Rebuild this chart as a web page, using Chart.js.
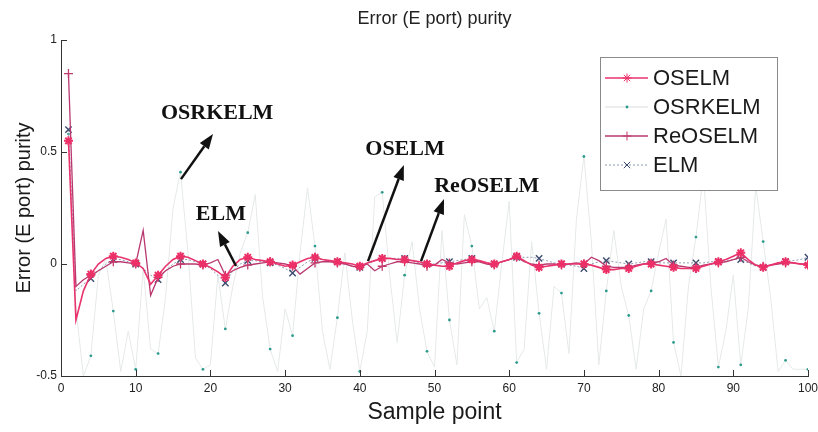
<!DOCTYPE html>
<html lang="en">
<head>
<meta charset="UTF-8" />
<title>Error (E port) purity</title>
<script src="https://cdn.jsdelivr.net/npm/chart.js"></script>
<style>
  body { margin: 0; background: #fff; }
  canvas { display: block; }
</style>
</head>
<body>
<canvas id="purityChart" width="818" height="432"></canvas>
<script>
  // sample index 1..100
  const samplePoints = Array.from({ length: 100 }, (_, i) => i + 1);
  const xTicks = [0, 10, 20, 30, 40, 50, 60, 70, 80, 90, 100];
  const yTicks = [-0.5, 0, 0.5, 1];

  const oselm = [
    0.55, -0.25, -0.12, -0.045, 0.0, 0.025, 0.035, 0.03, 0.02, 0.005,
    -0.02, -0.09, -0.05, -0.01, 0.02, 0.035, 0.03, 0.015, 0.0, -0.015,
    -0.035, -0.06, -0.01, 0.02, 0.03, 0.02, 0.015, 0.01, 0.0, -0.01,
    -0.005, 0.01, 0.025, 0.03, 0.02, 0.015, 0.01, 0.005, 0.0, -0.01,
    0.005, 0.015, 0.025, 0.025, 0.02, 0.02, 0.015, 0.01, 0.0, -0.005,
    -0.01, -0.01, 0.005, 0.015, 0.02, 0.015, 0.005, 0.0, 0.01, 0.02,
    0.035, 0.015, -0.005, -0.015, -0.01, -0.005, 0.0, 0.0, 0.0, 0.0,
    -0.005, -0.015, -0.025, -0.025, -0.02, -0.02, -0.01, 0.0, 0.0, -0.005,
    -0.01, -0.015, -0.02, -0.02, -0.02, -0.01, 0.0, 0.01, 0.02, 0.035,
    0.05, 0.02, -0.005, -0.015, -0.005, 0.005, 0.01, 0.005, 0.0, -0.005
  ];
  const osrkelm = [
    0.58, -0.2, -0.5, -0.41, -0.05, 0.02, -0.21, -0.48, -0.3, -0.47,
    -0.02, -0.38, -0.4, -0.15, 0.25, 0.41, 0.05, -0.42, -0.47, -0.45,
    -0.05, -0.29, -0.1, 0.05, 0.14, 0.31, -0.15, -0.38, -0.48, -0.2,
    -0.32, 0.05, 0.34, 0.08, -0.3, -0.47, -0.24, 0.05, -0.25, -0.48,
    -0.3, 0.3, 0.32, -0.05, -0.35, -0.05, 0.1, -0.2, -0.39, -0.46,
    0.15, -0.25, -0.45, 0.22, 0.08, -0.2, -0.15, -0.3, 0.0, 0.28,
    -0.44, -0.38, 0.1, -0.22, -0.47, -0.1, -0.13, -0.4, 0.2, 0.48,
    0.1, -0.45, -0.12, 0.15, -0.1, -0.23, -0.47, -0.2, -0.12, 0.05,
    0.2, -0.35, -0.5, -0.1, 0.12, 0.4, -0.1, -0.46, -0.3, -0.05,
    -0.45, -0.2, 0.35, 0.1, -0.15, -0.48, -0.43, -0.47, -0.47, -0.47
  ];
  const reoselm = [
    0.85, -0.1, -0.07, -0.05, -0.03, -0.01, 0.01, 0.01, 0.005, 0.0,
    0.15, -0.14, -0.06, -0.03, -0.01, 0.0, 0.0, 0.0, -0.005, 0.005,
    0.02, -0.05, -0.03, -0.015, -0.005, 0.0, 0.005, 0.01, 0.005, 0.0,
    -0.01, -0.045, -0.02, 0.005, 0.01, 0.01, 0.005, 0.0, -0.01, -0.015,
    0.0, -0.03, -0.01, 0.0, 0.01, 0.01, 0.005, 0.0, -0.01, -0.005,
    0.02, 0.005, 0.0, 0.005, 0.01, 0.01, 0.0, -0.005, 0.01, 0.02,
    0.03, 0.01, 0.0, -0.005, 0.0, 0.0, -0.005, 0.0, 0.005, 0.0,
    0.03, 0.015, -0.01, -0.015, -0.015, -0.015, -0.005, 0.0, 0.005, 0.01,
    0.025, -0.005, -0.01, -0.015, -0.015, -0.005, 0.0, 0.005, 0.01, 0.02,
    0.03, 0.01, -0.005, -0.01, -0.005, 0.0, 0.005, 0.005, 0.0, 0.0
  ];
  const elm = [
    0.6, -0.12, -0.09, -0.065, -0.03, 0.0, 0.02, 0.02, 0.01, 0.0,
    -0.02, -0.05, -0.07, -0.03, 0.0, 0.02, 0.02, 0.01, 0.0, -0.02,
    -0.05, -0.085, -0.03, 0.0, 0.015, 0.015, 0.01, 0.005, -0.005, -0.02,
    -0.04, -0.015, 0.01, 0.025, 0.02, 0.015, 0.01, 0.0, -0.01, -0.015,
    0.0, 0.015, 0.025, 0.025, 0.025, 0.025, 0.015, 0.005, 0.0, 0.0,
    0.005, 0.01, 0.015, 0.02, 0.025, 0.015, 0.005, 0.0, 0.01, 0.02,
    0.03, 0.03, 0.03, 0.025, 0.015, 0.005, 0.0, -0.005, -0.01, -0.02,
    0.0, 0.01, 0.015, 0.01, 0.005, 0.0, 0.005, 0.01, 0.01, 0.005,
    0.005, 0.005, 0.005, 0.005, 0.005, 0.005, 0.01, 0.01, 0.015, 0.02,
    0.02, 0.005, -0.01, -0.015, -0.005, 0.005, 0.01, 0.015, 0.02, 0.03
  ];

  // callout labels and arrows, in data units (sample, error)
  const calloutLabels = [
    { text: 'OSRKELM', x: 20.9, y: 0.674 },
    { text: 'ELM', x: 21.4, y: 0.223 },
    { text: 'OSELM', x: 46.05, y: 0.513 },
    { text: 'ReOSELM', x: 57.0, y: 0.348 }
  ];
  const calloutArrows = [
    { x0: 16.06, y0: 0.379, x1: 20.35, y1: 0.58 },
    { x0: 23.43, y0: -0.009, x1: 21.02, y1: 0.147 },
    { x0: 41.1, y0: 0.013, x1: 45.9, y1: 0.442 },
    { x0: 48.2, y0: 0.013, x1: 51.27, y1: 0.29 }
  ];

  const toPoints = vals => vals.map((v, i) => ({ x: samplePoints[i], y: v }));
  // markers only on every third sample
  const every3 = r => ctx => (ctx.dataIndex % 3 === 0 ? r : 0);

  const datasets = [
    {
      label: 'OSELM', data: toPoints(oselm), order: 0,
      borderColor: '#e8336d', borderWidth: 1.6,
      pointStyle: 'star', pointRadius: every3(4.5), pointBorderWidth: 2,
      pointBorderColor: '#ec2f66', pointBackgroundColor: '#ec2f66'
    },
    {
      label: 'OSRKELM', data: toPoints(osrkelm), order: 3,
      borderColor: '#e6e9e9', borderWidth: 1,
      pointStyle: 'circle', pointRadius: every3(1.4), pointBorderWidth: 0,
      pointBackgroundColor: '#2e9c8c'
    },
    {
      label: 'ReOSELM', data: toPoints(reoselm), order: 1,
      borderColor: '#b8386f', borderWidth: 1.3,
      pointStyle: 'cross', pointRadius: every3(4.5), pointBorderWidth: 1.3,
      pointBorderColor: '#c23a6c'
    },
    {
      label: 'ELM', data: toPoints(elm), order: 2,
      borderColor: '#8c9bb3', borderWidth: 1, borderDash: [2, 2],
      pointStyle: 'crossRot', pointRadius: every3(4.5), pointBorderWidth: 1.4,
      pointBorderColor: '#3c4a6e'
    }
  ];

  const drawArrow = (ctx, x0, y0, x1, y1) => {
    const ang = Math.atan2(y1 - y0, x1 - x0);
    const head = 15, half = 5.5;
    const bx = x1 - head * Math.cos(ang), by = y1 - head * Math.sin(ang);
    ctx.beginPath();
    ctx.moveTo(x0, y0);
    ctx.lineTo(bx, by);
    ctx.stroke();
    ctx.beginPath();
    ctx.moveTo(x1, y1);
    ctx.lineTo(bx + half * Math.sin(ang), by - half * Math.cos(ang));
    ctx.lineTo(bx - half * Math.sin(ang), by + half * Math.cos(ang));
    ctx.closePath();
    ctx.fill();
  };

  const drawMarker = (ctx, ds, x, y) => {
    const opts = {
      pointStyle: ds.pointStyle, rotation: 0,
      radius: ds.pointStyle === 'circle' ? 1.4 : 4.5,
      borderWidth: ds.pointBorderWidth
    };
    ctx.strokeStyle = ds.pointBorderColor || ds.borderColor;
    ctx.fillStyle = ds.pointBackgroundColor || ds.borderColor;
    Chart.helpers.drawPoint(ctx, opts, x, y);
  };

  const matlabDecor = {
    id: 'matlabDecor',
    afterDatasetsDraw(chart) {
      const { ctx, chartArea: a, scales: { x, y } } = chart;
      ctx.save();

      // inward tick marks
      ctx.strokeStyle = '#333';
      ctx.lineWidth = 1;
      ctx.beginPath();
      xTicks.forEach(t => {
        const px = Math.round(x.getPixelForValue(t)) + 0.5;
        ctx.moveTo(px, a.bottom);
        ctx.lineTo(px, a.bottom - 6);
      });
      yTicks.forEach(t => {
        const py = Math.round(y.getPixelForValue(t)) + 0.5;
        ctx.moveTo(a.left, py);
        ctx.lineTo(a.left + 6, py);
      });
      ctx.stroke();

      // title
      ctx.fillStyle = '#222';
      ctx.font = '18px "Liberation Sans", Arial, sans-serif';
      ctx.textAlign = 'center';
      ctx.textBaseline = 'middle';
      ctx.fillText('Error (E port) purity', (a.left + a.right) / 2, 19);

      // callouts
      ctx.fillStyle = '#111';
      ctx.strokeStyle = '#111';
      ctx.lineWidth = 2.5;
      ctx.font = 'bold 22px "Liberation Serif", "Times New Roman", serif';
      calloutLabels.forEach(c => {
        ctx.fillText(c.text, x.getPixelForValue(c.x), y.getPixelForValue(c.y));
      });
      calloutArrows.forEach(r => {
        drawArrow(ctx,
          x.getPixelForValue(r.x0), y.getPixelForValue(r.y0),
          x.getPixelForValue(r.x1), y.getPixelForValue(r.y1));
      });

      // legend box
      const bx = a.right - 208, by = a.top + 17, bw = 177, bh = 133;
      ctx.fillStyle = '#fff';
      ctx.fillRect(bx, by, bw, bh);
      ctx.strokeStyle = '#8a8a8a';
      ctx.lineWidth = 1;
      ctx.strokeRect(bx + 0.5, by + 0.5, bw, bh);
      ctx.font = '22px "Liberation Sans", Arial, sans-serif';
      ctx.textAlign = 'left';
      datasets.forEach((ds, i) => {
        const ry = by + 21 + i * 29;
        ctx.save();
        ctx.strokeStyle = ds.label === 'OSRKELM' ? '#d9dddd' : ds.borderColor;
        ctx.lineWidth = ds.borderWidth;
        ctx.setLineDash(ds.borderDash || []);
        ctx.beginPath();
        ctx.moveTo(bx + 5, ry);
        ctx.lineTo(bx + 48, ry);
        ctx.stroke();
        ctx.restore();
        drawMarker(ctx, ds, bx + 27, ry);
        ctx.fillStyle = '#1a1a1a';
        ctx.fillText(ds.label, bx + 53, ry + 1);
      });

      ctx.restore();
    }
  };

  const tickFont = { size: 12, family: '"Liberation Sans", Arial' };

  new Chart(document.getElementById('purityChart'), {
    type: 'line',
    data: { datasets },
    options: {
      responsive: false,
      animation: false,
      layout: { padding: { left: 0, right: 0, top: 40, bottom: 0 } },
      plugins: { legend: { display: false }, tooltip: { enabled: false } },
      elements: { line: { tension: 0 } },
      scales: {
        x: {
          type: 'linear', min: 0, max: 100,
          afterFit: s => { s.height = 56; s.paddingLeft = 0; s.paddingRight = 10; },
          afterBuildTicks: s => { s.ticks = xTicks.map(v => ({ value: v })); },
          grid: { display: false, drawTicks: false },
          border: { color: '#333', width: 1 },
          ticks: { color: '#222', padding: 5, font: tickFont },
          title: {
            display: true, text: 'Sample point', color: '#1a1a1a',
            font: { size: 23, family: '"Liberation Sans", Arial' },
            padding: { top: 0, bottom: 6 }
          }
        },
        y: {
          min: -0.5, max: 1,
          afterFit: s => { s.width = 61; },
          afterBuildTicks: s => { s.ticks = yTicks.map(v => ({ value: v })); },
          grid: { display: false, drawTicks: false },
          border: { color: '#333', width: 1 },
          ticks: { color: '#222', padding: 4, font: tickFont, callback: v => String(v) },
          title: {
            display: true, text: 'Error (E port) purity', color: '#1a1a1a',
            font: { size: 20, family: '"Liberation Sans", Arial' },
            padding: { top: 12, bottom: 0 }
          }
        }
      }
    },
    plugins: [matlabDecor]
  });
</script>
</body>
</html>
